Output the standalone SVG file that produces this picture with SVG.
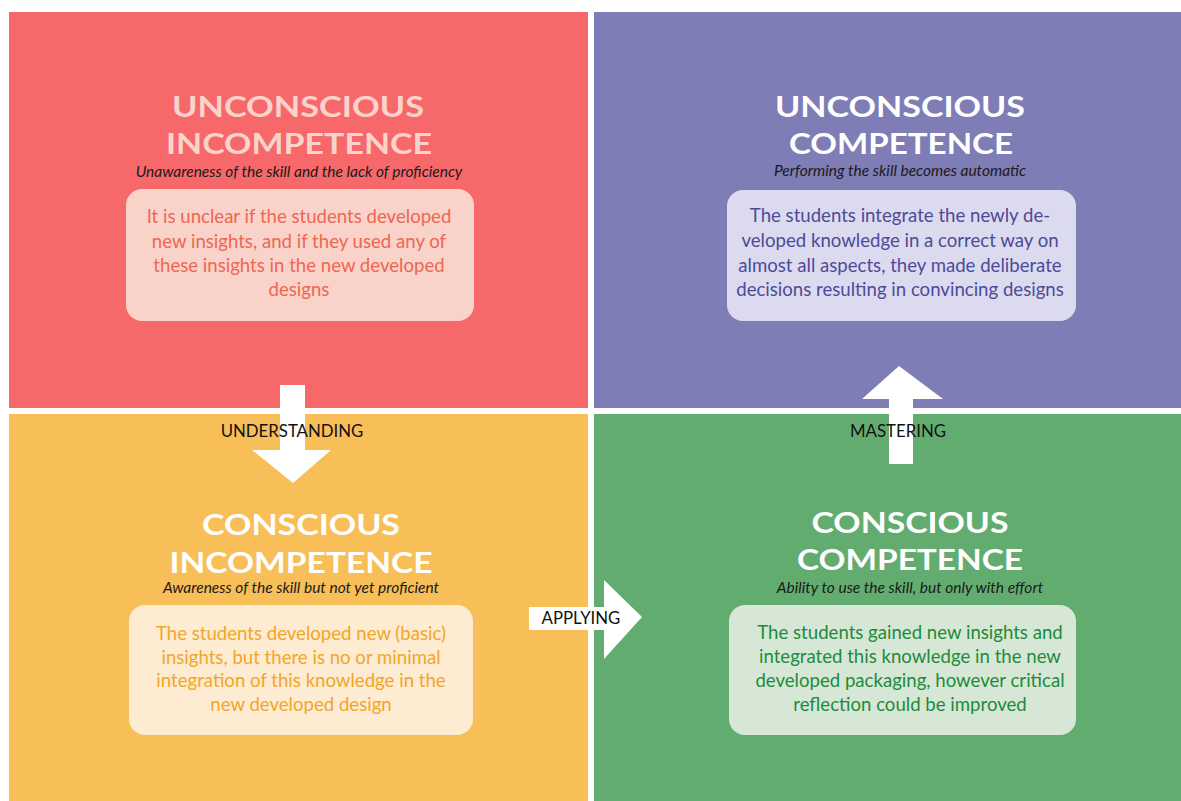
<svg xmlns="http://www.w3.org/2000/svg" width="1181" height="801" viewBox="0 0 1181 801">
<style>
.head{font-family:"Lato","Open Sans","Liberation Sans",sans-serif;font-weight:bold;font-size:29px;text-anchor:middle}
.sub{font-family:"Lato","Liberation Sans",sans-serif;font-style:italic;font-size:15.5px;fill:#1a1a1a;text-anchor:middle}
.body{font-family:"Lato","Liberation Sans",sans-serif;font-size:18.6px;text-anchor:middle}
.lbl{font-family:"Lato","Liberation Sans",sans-serif;font-size:16.8px;fill:#111;text-anchor:middle}
.arrow{fill:#ffffff}
</style>
<rect width="1181" height="801" fill="#ffffff"/>
<g id="q-unconscious-incompetence">
<rect x="9" y="12" width="579" height="396" fill="#F7686B"/>
<text class="head" x="298" y="117" fill="#FAD3CB" textLength="252" lengthAdjust="spacingAndGlyphs">UNCONSCIOUS</text>
<text class="head" x="299" y="154" fill="#FAD3CB" textLength="266" lengthAdjust="spacingAndGlyphs">INCOMPETENCE</text>
<text class="sub" x="299" y="177">Unawareness of the skill and the lack of proficiency</text>
<rect x="126" y="189" width="348" height="132" rx="16" fill="#F9D3CA"/>
<text class="body" fill="#EE6652"><tspan x="299" y="223">It is unclear if the students developed</tspan><tspan x="299" y="248">new insights, and if they used any of</tspan><tspan x="299" y="272">these insights in the new developed</tspan><tspan x="299" y="296">designs</tspan></text>
</g>
<g id="q-unconscious-competence">
<rect x="594" y="12" width="587" height="396" fill="#7E7DB5"/>
<text class="head" x="900" y="117" fill="#ffffff" textLength="250" lengthAdjust="spacingAndGlyphs">UNCONSCIOUS</text>
<text class="head" x="901" y="154" fill="#ffffff" textLength="224" lengthAdjust="spacingAndGlyphs">COMPETENCE</text>
<text class="sub" x="900" y="176">Performing the skill becomes automatic</text>
<rect x="727" y="190" width="349" height="131" rx="16" fill="#DCDAEF"/>
<text class="body" fill="#4D4B98"><tspan x="900" y="222">The students integrate the newly de-</tspan><tspan x="900" y="247">veloped knowledge in a correct way on</tspan><tspan x="900" y="272">almost all aspects, they made deliberate</tspan><tspan x="900" y="296">decisions resulting in convincing designs</tspan></text>
</g>
<g id="q-conscious-incompetence">
<rect x="9" y="414" width="579" height="387" fill="#F8BE58"/>
<text class="head" x="301" y="535" fill="#ffffff" textLength="198" lengthAdjust="spacingAndGlyphs">CONSCIOUS</text>
<text class="head" x="301" y="573" fill="#ffffff" textLength="263" lengthAdjust="spacingAndGlyphs">INCOMPETENCE</text>
<text class="sub" x="301" y="593">Awareness of the skill but not yet proficient</text>
<rect x="129" y="605" width="344" height="130" rx="16" fill="#FDEBD2"/>
<text class="body" fill="#F2A628"><tspan x="301" y="640">The students developed new (basic)</tspan><tspan x="301" y="664">insights, but there is no or minimal</tspan><tspan x="301" y="687">integration of this knowledge in the</tspan><tspan x="301" y="711">new developed design</tspan></text>
</g>
<g id="q-conscious-competence">
<rect x="594" y="414" width="587" height="387" fill="#63AC6F"/>
<text class="head" x="910" y="533" fill="#ffffff" textLength="197" lengthAdjust="spacingAndGlyphs">CONSCIOUS</text>
<text class="head" x="910" y="570" fill="#ffffff" textLength="226" lengthAdjust="spacingAndGlyphs">COMPETENCE</text>
<text class="sub" x="910" y="593">Ability to use the skill, but only with effort</text>
<rect x="729" y="605" width="347" height="130" rx="16" fill="#D6E7D5"/>
<text class="body" fill="#1E8B3B"><tspan x="910" y="639">The students gained new insights and</tspan><tspan x="910" y="663">integrated this knowledge in the new</tspan><tspan x="910" y="687">developed packaging, however critical</tspan><tspan x="910" y="711">reflection could be improved</tspan></text>
</g>
<g id="connectors">
<g id="arrow-understanding">
<polygon class="arrow" points="280,385 305,385 305,450 331,450 293,483 252,450 280,450"/>
<text class="lbl" x="292" y="437">UNDERSTANDING</text>
</g>
<g id="arrow-applying">
<polygon class="arrow" points="529,607 604,607 604,580 642,617 604,659 604,630 529,630"/>
<text class="lbl" x="581" y="624">APPLYING</text>
</g>
<g id="arrow-mastering">
<polygon class="arrow" points="889,464 913,464 913,399 943,399 899,366 862,399 889,399"/>
<text class="lbl" x="898" y="437">MASTERING</text>
</g>
</g>
</svg>
